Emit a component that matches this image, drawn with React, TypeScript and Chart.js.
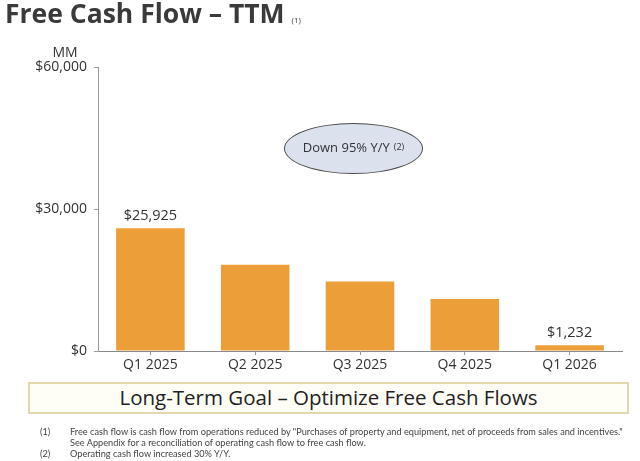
import React, { useEffect, useRef } from 'react';
import { Chart, registerables } from 'chart.js';

Chart.register(...registerables);

// ---- data ----
const categories = ['Q1 2025', 'Q2 2025', 'Q3 2025', 'Q4 2025', 'Q1 2026'];
const fcfValues = [25925, 18200, 14700, 11000, 1232];
const labeledIndices = [0, 4];
const yTickValues = [0, 30000, 60000];
const titleText = 'Free Cash Flow – TTM';
const unitText = 'MM';
const calloutText = 'Down 95% Y/Y';
const goalText = 'Long-Term Goal – Optimize Free Cash Flows';
const footnoteMarks = ['(1)', '', '(2)'];
const footnoteLines = [
  'Free cash flow is cash flow from operations reduced by "Purchases of property and equipment, net of proceeds from sales and incentives."',
  'See Appendix for a reconciliation of operating cash flow to free cash flow.',
  'Operating cash flow increased 30% Y/Y.',
];

const fmt = (v: number) => '$' + Number(v).toLocaleString('en-US');

export default function App() {
  const ref = useRef<HTMLCanvasElement>(null);

  useEffect(() => {
    document.body.style.margin = '0';
    const canvas = ref.current!;
    const valueLabels = {
      id: 'valueLabels',
      afterDatasetsDraw(chart: any) {
        const meta = chart.getDatasetMeta(0);
        const c = chart.ctx;
        c.save();
        c.font = '14.5px "Open Sans"';
        c.fillStyle = '#333333';
        c.textAlign = 'center';
        c.textBaseline = 'middle';
        labeledIndices.forEach((i) => {
          const el = meta.data[i];
          c.fillText(fmt(fcfValues[i]), el.x, el.y - 12);
        });
        c.restore();
      },
    };
    const chart = new Chart(canvas, {
      type: 'bar',
      data: {
        labels: categories,
        datasets: [
          {
            data: fcfValues,
            backgroundColor: '#EC9E39',
            barPercentage: 0.654,
            categoryPercentage: 1,
          },
        ],
      },
      options: {
        animation: false,
        responsive: false,
        layout: { padding: { left: 0, right: 18, top: 67, bottom: 80 } },
        plugins: { legend: { display: false }, tooltip: { enabled: false } },
        scales: {
          x: {
            afterFit: (s: any) => {
              s.height = 30;
            },
            grid: { drawOnChartArea: false, drawTicks: true, tickLength: 4, color: '#9a9a9a', offset: false },
            border: { color: '#8a8a8a', width: 1 },
            ticks: { font: { family: 'Open Sans', size: 14 }, color: '#333333', padding: 2, maxRotation: 0 },
          },
          y: {
            min: 0,
            max: 60000,
            afterFit: (s: any) => {
              s.width = 98;
            },
            afterBuildTicks: (s: any) => {
              s.ticks = yTickValues.map((v) => ({ value: v }));
            },
            ticks: {
              callback: (v: any) => fmt(v),
              font: { family: 'Open Sans', size: 14 },
              color: '#333333',
              padding: 7,
            },
            grid: { drawOnChartArea: false, drawTicks: true, tickLength: 4, color: '#9a9a9a' },
            border: { color: '#9a9a9a', width: 1 },
          },
        },
      },
      plugins: [valueLabels],
    } as any);
    return () => chart.destroy();
  }, []);

  return (
    <div style={{ position: 'fixed', left: 0, top: 0, width: 640, height: 461, background: '#ffffff', overflow: 'hidden', fontFamily: '"Open Sans", sans-serif' }}>
      <canvas ref={ref} width={640} height={461} style={{ position: 'absolute', left: 0, top: 0, display: 'block' }} />
      <div style={{ position: 'absolute', left: 5, top: -5, fontSize: 26.5, fontWeight: 700, color: '#3a3a3a', whiteSpace: 'nowrap' }}>
        {titleText}
        <span style={{ fontSize: 8, fontWeight: 400, marginLeft: 7, color: '#444' }}>(1)</span>
      </div>
      <div style={{ position: 'absolute', left: 45, top: 43, width: 40, textAlign: 'center', fontSize: 14, color: '#333', lineHeight: '18px' }}>{unitText}</div>
      <div style={{ position: 'absolute', left: 284, top: 123, width: 139, height: 51, boxSizing: 'border-box', border: '1px solid #4a4a4a', borderRadius: '50%', background: '#dbe2ee', display: 'flex', alignItems: 'center', justifyContent: 'center', fontSize: 13, color: '#333', whiteSpace: 'nowrap', paddingBottom: 4 }}>
        {calloutText}
        <span style={{ fontSize: 9, marginLeft: 4 }}>(2)</span>
      </div>
      <div style={{ position: 'absolute', left: 28, top: 382, width: 601, height: 32, boxSizing: 'border-box', border: '2px solid #e3d7ad', background: '#fffef6', textAlign: 'center', fontSize: 20.5, lineHeight: '27px', color: '#222', whiteSpace: 'nowrap' }}>
        {goalText}
      </div>
      {footnoteLines.map((line, i) => (
        <div key={i} style={{ position: 'absolute', left: 0, top: 426 + i * 11, width: 640, height: 11, fontFamily: 'Lato, sans-serif', fontSize: 9.2, lineHeight: '11px', color: '#444', whiteSpace: 'nowrap' }}>
          <span style={{ position: 'absolute', left: 40 }}>{footnoteMarks[i]}</span>
          <span style={{ position: 'absolute', left: 70 }}>{line}</span>
        </div>
      ))}
    </div>
  );
}
